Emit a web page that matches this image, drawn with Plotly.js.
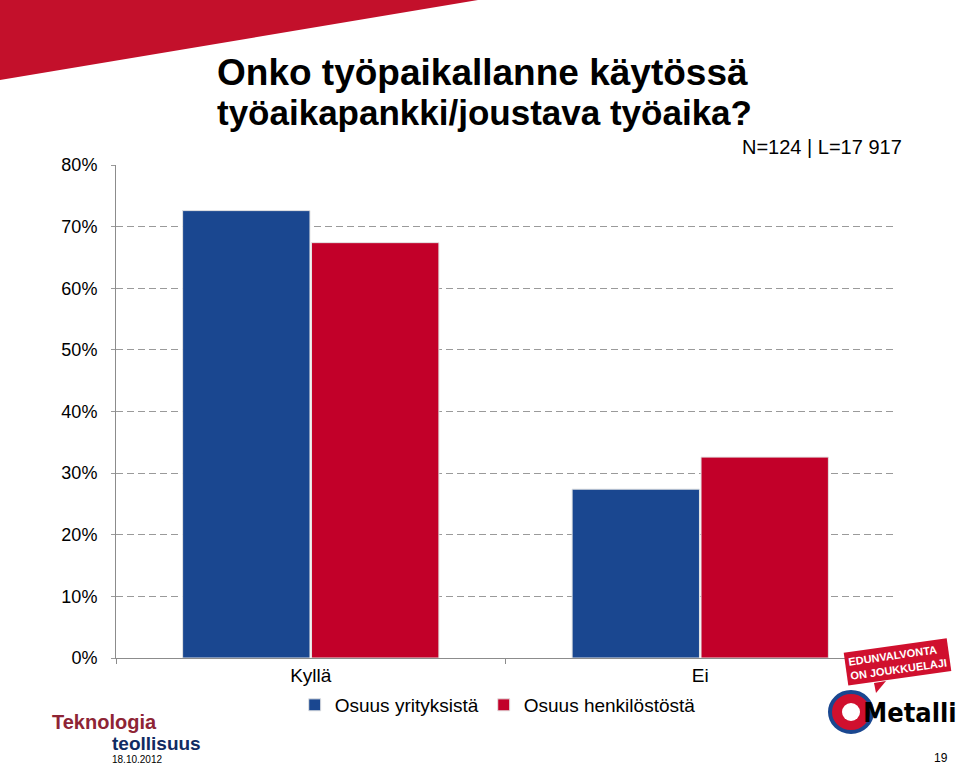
<!DOCTYPE html>
<html>
<head>
<meta charset="utf-8">
<script src="https://cdn.plot.ly/plotly-3.0.1.min.js"></script>
<style>html,body{margin:0;padding:0;background:#fff;}#chart{width:960px;height:765px;}</style>
</head>
<body>
<div id="chart"></div>
<script>
// ---- data ----
const categories = ["Kyllä", "Ei"];
const seriesNames = ["Osuus yrityksistä", "Osuus henkilöstöstä"];
const companyShare = [72.6, 27.4];   // Osuus yrityksistä (%)
const staffShare = [67.4, 32.6];     // Osuus henkilöstöstä (%)
const yTickVals = [0, 10, 20, 30, 40, 50, 60, 70, 80];
const yTickText = ["0%", "10%", "20%", "30%", "40%", "50%", "60%", "70%", "80%"];

// ---- layout helpers (pixel -> paper) ----
const L = 116, R = 895, T = 165, B = 658;
const px = x => (x - L) / (R - L);
const py = y => (B - y) / (B - T);
const FONT = "Liberation Sans, Arial, sans-serif";

const traces = [
  { type: "bar", name: seriesNames[0], x: categories, y: companyShare,
    marker: { color: "#1a4790", line: { color: "#e4e4e4", width: 1 } }, hoverinfo: "skip" },
  { type: "bar", name: seriesNames[1], x: categories, y: staffShare,
    marker: { color: "#c20029", line: { color: "#e4e4e4", width: 1 } }, hoverinfo: "skip" }
];

const layout = {
  width: 960, height: 765,
  margin: { l: L, r: 960 - R, t: T, b: 765 - B, pad: 0 },
  paper_bgcolor: "#fff", plot_bgcolor: "#fff",
  font: { family: FONT, color: "#000", size: 18 },
  barmode: "group", bargap: 0.338, bargroupgap: 0.012,
  showlegend: true,
  legend: { orientation: "h", x: 0.49, xanchor: "center", y: py(705), yanchor: "middle",
            font: { size: 19, family: FONT }, itemwidth: 30, traceorder: "normal" },
  xaxis: { type: "category", showgrid: false, zeroline: false, showline: true,
           linecolor: "#8c8c8c", linewidth: 1, ticks: "outside", tickson: "boundaries",
           ticklen: 5, tickcolor: "#8c8c8c", tickfont: { size: 19, family: FONT } },
  yaxis: { range: [0, 80], tickvals: yTickVals, ticktext: yTickText, showgrid: true,
           gridcolor: "#9a9a9a", griddash: "7px,4px", gridwidth: 1, zeroline: false,
           showline: true, linecolor: "#8c8c8c", linewidth: 1, ticks: "outside",
           ticklen: 4, tickcolor: "#9a9a9a", ticklabelstandoff: 10,
           tickfont: { size: 18, family: FONT } },
  shapes: [
    { type: "path", xref: "paper", yref: "paper", layer: "below",
      path: `M ${px(0)} ${py(0)} L ${px(478)} ${py(0)} L ${px(0)} ${py(80)} Z`,
      fillcolor: "#c3102b", line: { width: 0 } },
    // speech-bubble tail of the Edunvalvonta badge
    { type: "path", xref: "paper", yref: "paper",
      path: `M ${px(874)} ${py(683)} L ${px(886)} ${py(681)} L ${px(876)} ${py(693)} Z`,
      fillcolor: "#d0102e", line: { width: 0 } },
    // Metalli emblem (approximation)
    { type: "circle", xref: "paper", yref: "paper",
      x0: px(830), x1: px(872), y0: py(732), y1: py(692),
      fillcolor: "#d0102e", line: { color: "#1a4790", width: 4 } },
    { type: "circle", xref: "paper", yref: "paper",
      x0: px(842), x1: px(860), y0: py(721), y1: py(703),
      fillcolor: "#ffffff", line: { width: 0 } }
  ],
  annotations: [
    { text: "<b>Onko työpaikallanne käytössä</b>", xref: "paper", yref: "paper",
      x: px(215), y: py(72), xanchor: "left", yanchor: "middle", showarrow: false,
      font: { size: 37, family: FONT, color: "#000" } },
    { text: "<b>työaikapankki/joustava työaika?</b>", xref: "paper", yref: "paper",
      x: px(215), y: py(112), xanchor: "left", yanchor: "middle", showarrow: false,
      font: { size: 35, family: FONT, color: "#000" } },
    { text: "N=124 | L=17 917", xref: "paper", yref: "paper",
      x: px(904), y: py(147), xanchor: "right", yanchor: "middle", showarrow: false,
      font: { size: 20, family: FONT, color: "#000" } },
    { text: "<b>Teknologia</b>", xref: "paper", yref: "paper",
      x: px(51), y: py(722), xanchor: "left", yanchor: "middle", showarrow: false,
      borderpad: 0, font: { size: 20, family: FONT, color: "#8e2435" } },
    { text: "<b>teollisuus</b>", xref: "paper", yref: "paper",
      x: px(111), y: py(743), xanchor: "left", yanchor: "middle", showarrow: false,
      borderpad: 0, font: { size: 19, family: FONT, color: "#102b63" } },
    { text: "18.10.2012", xref: "paper", yref: "paper",
      x: px(111), y: py(766), xanchor: "left", yanchor: "bottom", showarrow: false,
      borderpad: 0, font: { size: 10, family: FONT, color: "#000" } },
    { text: "19", xref: "paper", yref: "paper",
      x: px(949), y: py(758), xanchor: "right", yanchor: "middle", showarrow: false,
      borderpad: 0, font: { size: 12, family: FONT, color: "#000" } },
    { text: "<b>EDUNVALVONTA</b><br><b>ON JOUKKUELAJI</b>", xref: "paper", yref: "paper",
      x: px(897), y: py(662), xanchor: "center", yanchor: "middle", showarrow: false,
      textangle: -8, bgcolor: "#d0102e", borderpad: 3, align: "left",
      font: { size: 11, family: FONT, color: "#fff" } },
    { text: "<b>Metalli</b>", xref: "paper", yref: "paper",
      x: px(958), y: py(712), xanchor: "right", yanchor: "middle", showarrow: false,
      borderpad: 0,
      font: { size: 27, family: "Liberation Sans Narrow, DejaVu Sans Condensed, sans-serif", color: "#000" } }
  ]
};

Plotly.newPlot("chart", traces, layout, { displayModeBar: false, staticPlot: true });
</script>
</body>
</html>
